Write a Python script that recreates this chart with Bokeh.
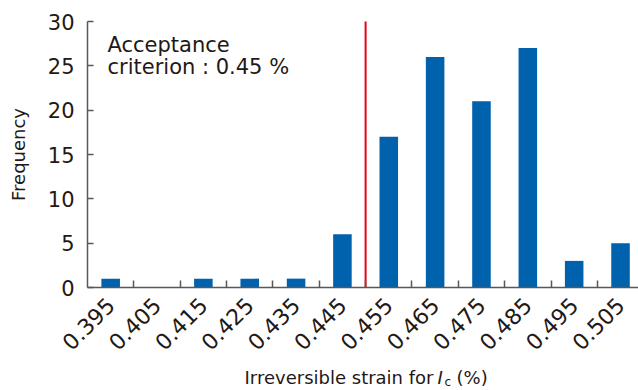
import math
from bokeh.plotting import figure
from bokeh.models import FixedTicker, PrintfTickFormatter, Label, Range1d
from bokeh.embed import file_html
from bokeh.resources import INLINE

# ---- data ----
bins = [0.395, 0.405, 0.415, 0.425, 0.435, 0.445, 0.455, 0.465, 0.475, 0.485, 0.495, 0.505]
counts = [1, 0, 1, 1, 1, 6, 17, 26, 21, 27, 3, 5]
bin_edges = [0.40, 0.41, 0.42, 0.43, 0.44, 0.45, 0.46, 0.47, 0.48, 0.49, 0.50]
x_min = 0.39
y_ticks = [0, 5, 10, 15, 20, 25, 30]
criterion = 0.45
annotation_lines = ["Acceptance", "criterion : 0.45 %"]
x_label_parts = ["Irreversible strain for", "I", "c", "(%)"]
y_label = "Frequency"

FONT = "DejaVu Sans"
TEXT = "#231815"
AXIS = "#595757"
BAR = "#0061ad"
RED = "#e60012"

W, H = 638, 390
# plot-area placement in canvas pixels
AX_LEFT, AX_TOP, AX_BOTTOM = 87, 21, 287
x_px_per_unit = 46.35 / 0.01
y_px_per_unit = (AX_BOTTOM - AX_TOP) / (y_ticks[-1] - y_ticks[0])
x_start = x_min - AX_LEFT / x_px_per_unit
x_end = x_min + (W - AX_LEFT) / x_px_per_unit
y_start = y_ticks[0] - (H - AX_BOTTOM) / y_px_per_unit
y_end = y_ticks[-1] + AX_TOP / y_px_per_unit

p = figure(width=W, height=H, output_backend="svg", toolbar_location=None,
           x_range=Range1d(x_start, x_end), y_range=Range1d(y_start, y_end),
           min_border=0, min_border_left=0, min_border_right=0,
           min_border_top=0, min_border_bottom=0)
p.outline_line_color = None
p.grid.visible = False
p.background_fill_color = "white"
p.border_fill_color = "white"

p.vbar(x=bins, top=counts, width=0.004, bottom=0, fill_color=BAR, line_color=None)

p.segment(x0=[criterion], y0=[y_ticks[0]], x1=[criterion], y1=[y_ticks[-1]],
          line_color=RED, line_width=2)

xa = p.xaxis[0]
xa.fixed_location = y_ticks[0]
xa.bounds = (x_min, x_end)
xa.ticker = FixedTicker(ticks=bins, minor_ticks=bin_edges)
xa.formatter = PrintfTickFormatter(format="%.3f")
xa.major_tick_in = 0
xa.major_tick_out = 0
xa.minor_tick_in = 7
xa.minor_tick_out = 0
xa.minor_tick_line_color = AXIS
xa.minor_tick_line_width = 1.5
xa.axis_line_color = AXIS
xa.axis_line_width = 1.5
xa.major_label_orientation = math.pi / 4
xa.major_label_standoff = 14
xa.major_label_text_font = FONT
xa.major_label_text_font_size = "22px"
xa.major_label_text_color = TEXT

ya = p.yaxis[0]
ya.fixed_location = x_min
ya.bounds = (y_ticks[0], y_ticks[-1])
ya.ticker = FixedTicker(ticks=y_ticks)
ya.major_tick_in = 6
ya.major_tick_out = 0
ya.minor_tick_line_color = None
ya.major_tick_line_color = AXIS
ya.major_tick_line_width = 1.5
ya.axis_line_color = AXIS
ya.axis_line_width = 1.5
ya.major_label_standoff = 13
ya.major_label_text_font = FONT
ya.major_label_text_font_size = "21px"
ya.major_label_text_color = TEXT
ya.axis_label = y_label
ya.axis_label_text_font = FONT
ya.axis_label_text_font_size = "18px"
ya.axis_label_text_font_style = "normal"
ya.axis_label_text_color = TEXT
ya.axis_label_standoff = 16

common = dict(x_units="screen", y_units="screen", text_font=FONT, text_color=TEXT,
              text_baseline="alphabetic")

# annotation
for i, line in enumerate(annotation_lines):
    p.add_layout(Label(x=107, y=346 - 22 * i, text=line, text_font_size="21px", **common))

# x axis title built from pieces (italic I with subscript c)
p.add_layout(Label(x=433, y=13, text=x_label_parts[0], text_font_size="18px",
                   text_align="right", **common))
p.add_layout(Label(x=437, y=13, text=x_label_parts[1], text_font_size="18px",
                   text_font_style="italic", **common))
p.add_layout(Label(x=444, y=9, text=x_label_parts[2], text_font_size="12px", **common))
p.add_layout(Label(x=456, y=13, text=x_label_parts[3], text_font_size="18px", **common))

open("out.html", "w").write(file_html(p, INLINE))
